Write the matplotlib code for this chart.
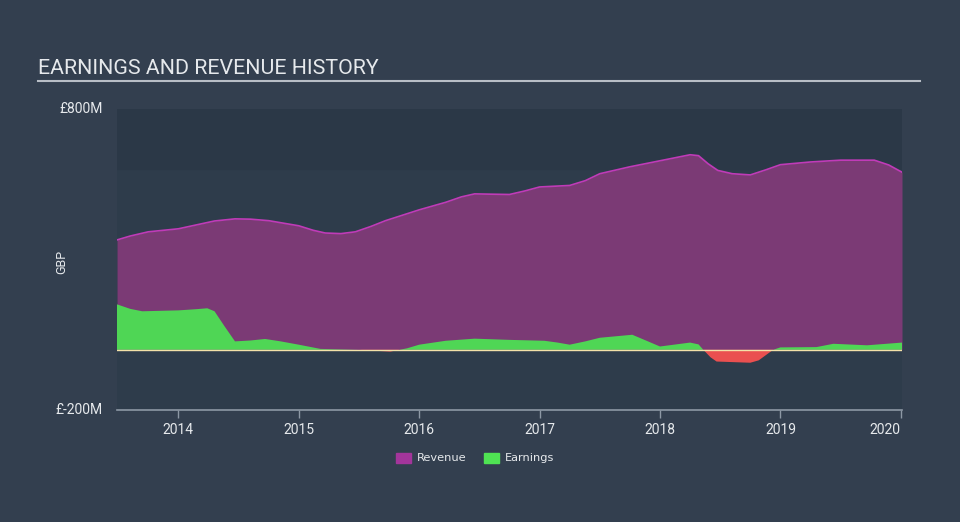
import numpy as np
import matplotlib
import matplotlib.pyplot as plt

matplotlib.use("Agg")

# Values (GBP millions, x in decimal years)
rev_x = [2013.49, 2013.6, 2013.75, 2014.0, 2014.15, 2014.3, 2014.47, 2014.6,
         2014.75, 2015.0, 2015.12, 2015.22, 2015.35, 2015.47, 2015.6, 2015.72,
         2016.0, 2016.22, 2016.35, 2016.46, 2016.6, 2016.75, 2016.88, 2017.0,
         2017.25, 2017.38, 2017.5, 2017.75, 2018.0, 2018.15, 2018.25, 2018.32,
         2018.4, 2018.48, 2018.6, 2018.75, 2018.88, 2019.0, 2019.25, 2019.5,
         2019.78, 2019.9, 2020.01]
rev_y = [365, 378, 392, 402, 415, 428, 435, 434, 429, 412, 397, 388, 386, 392,
         410, 429, 465, 490, 508, 518, 517, 516, 528, 541, 546, 562, 585, 608,
         628, 640, 648, 645, 618, 596, 585, 581, 598, 615, 624, 630, 630, 614, 590]

earn_x = [2013.49, 2013.6, 2013.7, 2014.0, 2014.15, 2014.24, 2014.3, 2014.38,
          2014.47, 2014.6, 2014.72, 2014.85, 2015.0, 2015.18, 2015.5, 2015.76,
          2015.9, 2016.0, 2016.22, 2016.46, 2016.75, 2017.04, 2017.15, 2017.25,
          2017.38, 2017.5, 2017.77, 2017.9, 2018.0, 2018.25, 2018.32, 2018.36,
          2018.42, 2018.47, 2018.75, 2018.82, 2018.94, 2019.0, 2019.3, 2019.44,
          2019.72, 2020.01]
earn_y = [151, 136, 128, 131, 135, 138, 128, 80, 28, 31, 36, 28, 17, 3, 0, -6,
          5, 17, 30, 37, 33, 30, 24, 17, 28, 40, 50, 28, 11, 24, 18, 0, -25, -39,
          -43, -35, 0, 8, 9, 20, 15, 24]

years = [2014, 2015, 2016, 2017, 2018, 2019, 2020]
ytick_vals = [-200, 800]
ytick_labels = ["£-200M", "£800M"]

BG = "#333f4f"
PLOT_BG = "#2e3c4b"
TOP_BAND = "#2b3847"
TXT = "#e6e9ec"

fig = plt.figure(figsize=(9.6, 5.22), dpi=100)
fig.patch.set_facecolor(BG)
ax = fig.add_axes([117 / 960, 1 - 410 / 522, 785 / 960, 301 / 522])
ax.set_facecolor(PLOT_BG)
ax.set_xlim(2013.49, 2020.01)
ax.set_ylim(-200, 800)

ax.axhspan(600, 800, color=TOP_BAND, zorder=0)

rx = np.array(rev_x)
ry = np.array(rev_y)
ax.fill_between(rx, 0, ry, color="#7b3a75", zorder=1, lw=0)
ax.plot(rx, ry, color="#c03bb8", lw=1.2, zorder=2)

ex = np.array(earn_x)
ey = np.array(earn_y)
ax.fill_between(ex, 0, ey, where=ey >= 0, interpolate=True, color="#4fd655", lw=0, zorder=3)
ax.fill_between(ex, 0, ey, where=ey <= 0, interpolate=True, color="#ea5050", lw=0, zorder=3)
ax.axhline(0, color="#f3e2a9", lw=1, zorder=4)

for s in ["top", "right", "left"]:
    ax.spines[s].set_visible(False)
ax.spines["bottom"].set_color("#8d98a5")
ax.spines["bottom"].set_linewidth(1.2)

ax.set_xticks(years)
ax.set_xticklabels([str(y) for y in years], color=TXT, fontsize=10, family="Roboto")
ax.get_xticklabels()[-1].set_horizontalalignment("right")
ax.tick_params(axis="x", colors="#8d98a5", length=6, width=1, labelcolor=TXT, pad=3)
ax.set_yticks([])

for v, lab in zip(ytick_vals, ytick_labels):
    fig.text(103 / 960, 1 - (350 - 0.301 * v) / 522, lab, color=TXT, fontsize=10,
             family="Roboto", ha="right", va="center")
fig.text(62 / 960, 1 - 262 / 522, "GBP", color=TXT, fontsize=9, family="Roboto",
         rotation=90, ha="center", va="center")

fig.text(38 / 960, 1 - 68 / 522, "EARNINGS AND REVENUE HISTORY", color=TXT,
         fontsize=15.4, family="Roboto", ha="left", va="center")
fig.add_artist(plt.Line2D([38 / 960, 920 / 960], [1 - 81 / 522, 1 - 81 / 522],
                          color="#b8bec6", lw=1.5))

# legend
handles = [plt.Rectangle((0, 0), 1, 1, color="#a3359b"),
           plt.Rectangle((0, 0), 1, 1, color="#4fe353")]
fig.legend(handles, ["Revenue", "Earnings"], loc="center", bbox_to_anchor=(475 / 960, 1 - 458 / 522),
           ncol=2, frameon=False, labelcolor=TXT, handlelength=1.3,
           handleheight=1.0, columnspacing=1.6, handletextpad=0.5,
           prop={"family": "DejaVu Sans", "size": 8.2})

fig.savefig("out.png", dpi=100, facecolor=BG)
